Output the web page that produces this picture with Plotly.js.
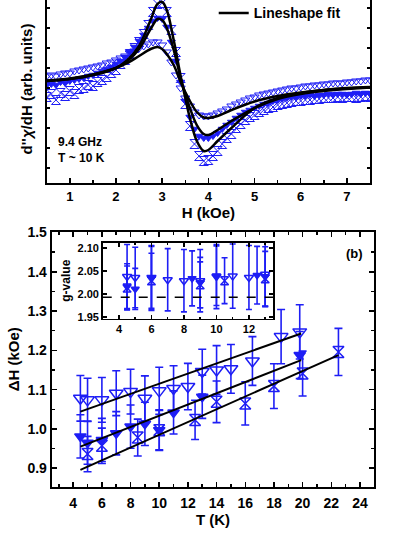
<!DOCTYPE html>
<html>
<head>
<meta charset="utf-8">
<script src="https://cdn.plot.ly/plotly-3.0.1.min.js"></script>
<style>
  html, body { margin: 0; padding: 0; overflow: hidden; background: #fff; }
  #chart { position: absolute; left: 0; top: -20px; width: 415px; height: 557px; }
</style>
</head>
<body>
<div id="chart"></div>
<script>
// ---------------- Panel (a): EPR derivative spectra ----------------
const fieldFit = [0.5, 1, 1.5, 2, 2.25, 2.5, 2.75, 2.9, 3.0, 3.1, 3.25, 3.4, 3.5, 3.6, 3.75, 3.9, 4.0, 4.2, 4.5, 5, 5.5, 6, 6.5, 7, 7.5];
const fitA = [0.7, 0.9, 1.3, 2.0, 2.8, 4.2, 6.8, 8.4, 8.6, 7.8, 4.8, 1.2, -1.0, -3.0, -5.3, -6.3, -6.2, -5.3, -4.0, -2.0, -1.0, -0.5, -0.2, 0.0, 0.1];
const fitB = [0.7, 0.9, 1.3, 2.0, 2.7, 3.9, 5.9, 6.9, 6.8, 6.0, 3.8, 1.0, -0.6, -2.0, -3.7, -4.6, -4.7, -4.2, -3.3, -2.0, -1.1, -0.6, -0.3, -0.1, 0.05];
const fitC = [0.75, 0.95, 1.35, 2.0, 2.5, 3.2, 3.9, 4.1, 3.9, 3.4, 2.3, 0.6, -0.4, -1.3, -2.4, -2.95, -3.0, -2.8, -2.2, -1.35, -0.8, -0.45, -0.2, -0.05, 0.05];

const fieldData = [0.5, 0.6, 0.7, 0.8, 0.9, 1.0, 1.1, 1.2, 1.3, 1.4, 1.5, 1.6, 1.7, 1.8, 1.9, 2.0,
  2.1, 2.2, 2.3, 2.4, 2.5, 2.6, 2.7, 2.8, 2.9, 3.0, 3.1, 3.2, 3.3, 3.4, 3.5, 3.6, 3.7, 3.8, 3.9, 4.0,
  4.1, 4.2, 4.3, 4.4, 4.5, 4.6, 4.7, 4.8, 4.9, 5.0, 5.1, 5.2, 5.3, 5.4, 5.5, 5.6, 5.7, 5.8, 5.9, 6.0,
  6.1, 6.2, 6.3, 6.4, 6.5, 6.6, 6.7, 6.8, 6.9, 7.0, 7.1, 7.2, 7.3, 7.4, 7.5];
const dataA = [-0.9, -0.6, -1.2, -0.5, -0.8, -0.3, -0.6, -0.1, 0.0, 0.3, 0.2, 0.6, 0.8, 1.1, 1.5, 1.8,
  2.4, 2.8, 3.4, 4.0, 4.6, 5.4, 6.3, 7.6, 8.4, 8.5, 7.6, 5.8, 3.6, 1.0, -1.6, -3.8, -5.6, -6.8, -7.3, -7.2,
  -6.8, -6.3, -5.6, -5.0, -4.6, -4.0, -3.6, -3.2, -2.9, -2.7, -2.4, -2.2, -2.0, -1.9, -1.7, -1.6, -1.5, -1.4, -1.3, -1.3,
  -1.2, -1.2, -1.1, -1.1, -1.0, -1.0, -1.0, -0.9, -1.0, -0.9, -0.9, -1.0, -0.9, -0.8, -0.9];
const dataB = [0.3, 0.4, 0.3, 0.6, 0.5, 0.7, 0.8, 0.9, 1.0, 1.2, 1.3, 1.5, 1.7, 1.9, 2.1, 2.4,
  2.7, 3.1, 3.6, 4.1, 4.7, 5.3, 6.0, 6.7, 7.0, 6.9, 6.1, 4.6, 2.7, 0.6, -1.3, -2.9, -4.1, -4.8, -5.0, -5.0,
  -4.8, -4.5, -4.1, -3.7, -3.4, -3.0, -2.7, -2.4, -2.2, -2.0, -1.8, -1.6, -1.5, -1.3, -1.2, -1.1, -1.0, -0.9, -0.9, -0.8,
  -0.8, -0.7, -0.8, -0.7, -0.7, -0.6, -0.7, -0.6, -0.6, -0.7, -0.6, -0.5, -0.6, -0.5, -0.6];
const dataC = [1.2, 1.3, 1.2, 1.4, 1.5, 1.5, 1.7, 1.8, 1.9, 2.0, 2.1, 2.2, 2.3, 2.5, 2.6, 2.8,
  3.0, 3.2, 3.5, 3.7, 4.0, 4.2, 4.4, 4.6, 4.6, 4.3, 3.6, 2.6, 1.3, 0.0, -1.0, -1.8, -2.4, -2.7, -2.8, -2.8,
  -2.7, -2.5, -2.3, -2.1, -1.8, -1.6, -1.4, -1.2, -1.0, -0.9, -0.7, -0.6, -0.5, -0.4, -0.3, -0.2, -0.1, 0.0, 0.0, 0.1,
  0.2, 0.2, 0.3, 0.3, 0.4, 0.4, 0.5, 0.5, 0.5, 0.6, 0.6, 0.7, 0.7, 0.8, 0.8];

// ---------------- Panel (b): linewidth vs temperature ----------------
const tOpen = [4.5, 5, 6, 7, 8, 9, 10, 11, 12, 13, 14, 15, 16.5, 18.5, 19.8];
const dhOpen = [1.078, 1.074, 1.074, 1.091, 1.095, 1.078, 1.097, 1.103, 1.108, 1.146, 1.150, 1.153, 1.173, 1.235, 1.247];
const errOpen = [0.058, 0.055, 0.057, 0.057, 0.057, 0.057, 0.060, 0.058, 0.059, 0.057, 0.062, 0.062, 0.062, 0.069, 0.069];

const tFilled = [4.5, 5, 6, 7, 8, 9, 10, 11, 13, 19.8];
const dhFilled = [0.981, 0.965, 0.972, 0.989, 1.006, 1.013, 0.997, 1.042, 1.082, 1.188];
const errFilled = [0.055, 0.055, 0.055, 0.055, 0.055, 0.055, 0.052, 0.055, 0.055, 0.060];

const tCross = [5, 6, 8.5, 10, 12.5, 14, 16, 18, 20, 22.5];
const dhCross = [0.936, 0.957, 0.978, 0.997, 1.023, 1.069, 1.065, 1.109, 1.141, 1.196];
const errCross = [0.045, 0.045, 0.047, 0.050, 0.050, 0.053, 0.055, 0.057, 0.057, 0.060];

// linear fits (end points)
const tFitOpen = [4.5, 19.9];
const dhFitOpen = [1.044, 1.243];
const tFitFilled = [4.5, 19.9];
const dhFitFilled = [0.955, 1.175];
const tFitCross = [4.5, 22.5];
const dhFitCross = [0.896, 1.188];

// ---------------- Inset: g-value ----------------
const gTOpen = [4.5, 5, 6, 7, 8, 9, 10, 11, 12, 13];
const gOpen = [2.038, 2.036, 2.036, 2.031, 2.029, 2.029, 2.038, 2.039, 2.036, 2.043];
const gErrOpen = [0.070, 0.066, 0.070, 0.068, 0.068, 0.068, 0.070, 0.070, 0.070, 0.070];
const gTFilled = [4.5, 5, 6, 8.5, 9, 10, 12.5, 13];
const gFilled = [2.016, 2.011, 2.034, 2.034, 2.025, 2.040, 2.041, 2.038];
const gErrFilled = [0.050, 0.045, 0.070, 0.060, 0.055, 0.065, 0.063, 0.065];
const gTCross = [4.5, 6, 9, 10.5, 13];
const gCross = [2.013, 2.029, 2.020, 2.029, 2.033];
const gErrCross = [0.048, 0.060, 0.050, 0.050, 0.060];
const gRef = 1.993;

const blue = "#1e1ef5";
const bold = { family: "Liberation Sans, Arial, sans-serif", color: "#000", weight: "bold" };

function dataTrace(x, y, symbol, size, xa, ya) {
  return {
    x: x, y: y, xaxis: xa, yaxis: ya, type: "scatter", mode: "markers",
    marker: { symbol: symbol, size: size, color: blue, line: { color: blue, width: 1 } },
    showlegend: false, hoverinfo: "skip"
  };
}
function errTrace(x, y, e, symbol, size, xa, ya, capw) {
  const t = dataTrace(x, y, symbol, size, xa, ya);
  t.marker.line.width = 1.5;
  t.error_y = { type: "data", array: e, visible: true, color: blue, thickness: 1.6, width: capw };
  return t;
}
function fitTrace(x, y, xa, ya, w, spline, name, show) {
  return {
    x: x, y: y, xaxis: xa, yaxis: ya, type: "scatter", mode: "lines",
    line: { color: "#000", width: w, shape: spline ? "spline" : "linear", smoothing: 1 },
    name: name || "", showlegend: !!show, hoverinfo: "skip"
  };
}

const traces = [
  dataTrace(fieldData, dataC, "triangle-down-open", 8, "x", "y"),
  dataTrace(fieldData, dataB, "triangle-down", 7, "x", "y"),
  dataTrace(fieldData, dataA, "hourglass-open", 9, "x", "y"),
  fitTrace(fieldFit, fitC, "x", "y", 2.5, true),
  fitTrace(fieldFit, fitB, "x", "y", 2.5, true),
  fitTrace(fieldFit, fitA, "x", "y", 2.5, true, "Lineshape fit", true),

  errTrace(tOpen, dhOpen, errOpen, "triangle-down-open", 12, "x2", "y2", 4),
  errTrace(tFilled, dhFilled, errFilled, "triangle-down", 10, "x2", "y2", 4),
  errTrace(tCross, dhCross, errCross, "hourglass-open", 11, "x2", "y2", 4),
  fitTrace(tFitOpen, dhFitOpen, "x2", "y2", 2),
  fitTrace(tFitFilled, dhFitFilled, "x2", "y2", 2),
  fitTrace(tFitCross, dhFitCross, "x2", "y2", 2),

  errTrace(gTOpen, gOpen, gErrOpen, "triangle-down-open", 8, "x3", "y3", 3),
  errTrace(gTFilled, gFilled, gErrFilled, "triangle-down", 7, "x3", "y3", 3),
  errTrace(gTCross, gCross, gErrCross, "hourglass-open", 8, "x3", "y3", 3)
];

const axisBase = {
  showline: true, linecolor: "#000", linewidth: 2, mirror: "ticks",
  ticks: "inside", tickcolor: "#000", tickwidth: 1.5,
  showgrid: false, zeroline: false
};

const layout = {
  width: 415, height: 557,
  margin: { l: 0, r: 0, t: 0, b: 0 },
  paper_bgcolor: "#fff", plot_bgcolor: "#fff",
  showlegend: true,
  legend: {
    x: 0.515, y: 0.94, xanchor: "left", yanchor: "middle",
    bgcolor: "rgba(0,0,0,0)", font: Object.assign({}, bold, { size: 14 }),
    itemwidth: 30
  },
  xaxis: Object.assign({}, axisBase, {
    domain: [0.1125, 0.8916], anchor: "y", range: [0.5, 7.5], dtick: 1, tick0: 0, ticklen: 5,
    minor: { dtick: 0.5, ticks: "inside", ticklen: 3, tickcolor: "#000" },
    tickfont: Object.assign({}, bold, { size: 13 }),
    title: { text: "H (kOe)", font: Object.assign({}, bold, { size: 15 }), standoff: 2 }
  }),
  yaxis: Object.assign({}, axisBase, {
    domain: [0.6355, 0.9731], anchor: "x", range: [-9.5, 9.3], dtick: 2, ticklen: 3,
    showticklabels: false,
    title: { text: "d''<i>χ</i>/dH (arb. units)", font: Object.assign({}, bold, { size: 15 }), standoff: 8 }
  }),
  xaxis2: Object.assign({}, axisBase, {
    domain: [0.1246, 0.9019], anchor: "y2", range: [2.5, 25], dtick: 2, tick0: 0, ticklen: 5,
    minor: { dtick: 1, ticks: "inside", ticklen: 3, tickcolor: "#000" },
    tickfont: Object.assign({}, bold, { size: 14 }), ticklabelstandoff: 2,
    title: { text: "T (K)", font: Object.assign({}, bold, { size: 15 }), standoff: 0 }
  }),
  yaxis2: Object.assign({}, axisBase, {
    domain: [0.0903, 0.5481], anchor: "x2", range: [0.853, 1.502], dtick: 0.1, tick0: 0, ticklen: 5,
    tickformat: ".1f",
    minor: { dtick: 0.05, ticks: "inside", ticklen: 3, tickcolor: "#000" },
    tickfont: Object.assign({}, bold, { size: 14 }),
    title: { text: "ΔH (kOe)", font: Object.assign({}, bold, { size: 15 }), standoff: 4 }
  }),
  xaxis3: Object.assign({}, axisBase, {
    domain: [0.2475, 0.6586], anchor: "y3", range: [3, 13.5], dtick: 2, tick0: 0, ticklen: 4,
    linewidth: 1.5,
    minor: { dtick: 1, ticks: "inside", ticklen: 2, tickcolor: "#000" },
    tickfont: Object.assign({}, bold, { size: 11 })
  }),
  yaxis3: Object.assign({}, axisBase, {
    domain: [0.3919, 0.5284], anchor: "x3", range: [1.946, 2.112], dtick: 0.05, tick0: 0, ticklen: 4,
    linewidth: 1.5, tickformat: ".2f",
    tickfont: Object.assign({}, bold, { size: 11 }),
    title: { text: "g-value", font: Object.assign({}, bold, { size: 12 }), standoff: 4 }
  }),
  shapes: [
    { type: "line", xref: "x3 domain", x0: 0, x1: 1, yref: "y3", y0: gRef, y1: gRef,
      line: { color: "#000", width: 1.5, dash: "dash" } }
  ],
  annotations: [
    { xref: "x domain", yref: "y domain", x: 0.029, y: 0.178, xanchor: "left", yanchor: "middle",
      align: "left", showarrow: false, text: "9.4 GHz<br>T ~ 10 K",
      font: Object.assign({}, bold, { size: 12 }) },
    { xref: "x2 domain", yref: "y2 domain", x: 0.94, y: 0.916, xanchor: "center", yanchor: "middle",
      showarrow: false, text: "(b)", font: Object.assign({}, bold, { size: 13 }) }
  ]
};

Plotly.newPlot("chart", traces, layout, { staticPlot: true, displayModeBar: false });
</script>
</body>
</html>
